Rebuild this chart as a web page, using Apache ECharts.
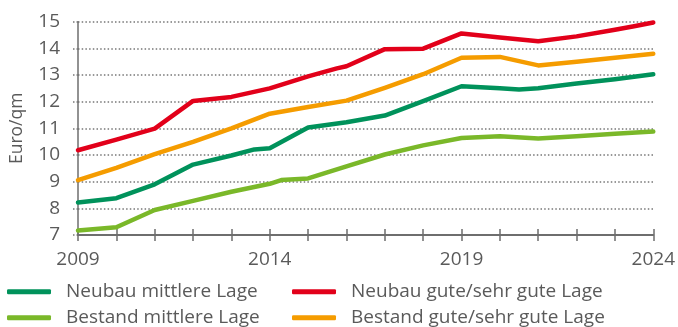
<!DOCTYPE html>
<html>
<head>
<meta charset="utf-8">
<script src="https://cdn.jsdelivr.net/npm/echarts@6/dist/echarts.min.js"></script>
<style>
  html, body { margin: 0; padding: 0; background: #fff; }
  #chart { width: 678px; height: 327px; }
</style>
</head>
<body>
<div id="chart"></div>
<script>
// Rent levels in Euro per square metre, 2009–2024
const seriesNames = [
  'Neubau mittlere Lage',
  'Neubau gute/sehr gute Lage',
  'Bestand mittlere Lage',
  'Bestand gute/sehr gute Lage'
];

const neubauMittelYears  = [2009, 2010, 2011, 2012, 2013, 2013.6, 2014, 2015, 2016, 2017, 2018, 2019, 2020, 2020.5, 2021, 2022, 2023, 2024];
const neubauMittelValues = [8.22, 8.38, 8.9, 9.64, 9.98, 10.21, 10.25, 11.03, 11.23, 11.48, 12.02, 12.58, 12.5, 12.46, 12.5, 12.68, 12.84, 13.03];

const neubauGutYears  = [2009, 2010, 2011, 2012, 2013, 2014, 2015, 2015.75, 2016, 2017, 2018, 2019, 2020, 2021, 2022, 2023, 2023.5, 2024];
const neubauGutValues = [10.18, 10.58, 10.99, 12.03, 12.18, 12.5, 12.95, 13.25, 13.33, 13.97, 13.99, 14.56, 14.41, 14.27, 14.45, 14.7, 14.83, 14.97];

const bestandMittelYears  = [2009, 2010, 2011, 2012, 2013, 2014, 2014.3, 2015, 2016, 2017, 2018, 2019, 2020, 2021, 2022, 2023, 2024];
const bestandMittelValues = [7.17, 7.29, 7.94, 8.28, 8.62, 8.92, 9.06, 9.12, 9.57, 10.02, 10.36, 10.64, 10.7, 10.62, 10.7, 10.8, 10.88];

const bestandGutYears  = [2009, 2010, 2011, 2012, 2013, 2014, 2015, 2016, 2017, 2018, 2019, 2020, 2021, 2022, 2023, 2024];
const bestandGutValues = [9.06, 9.52, 10.03, 10.49, 11.0, 11.55, 11.8, 12.04, 12.52, 13.03, 13.65, 13.68, 13.36, 13.5, 13.65, 13.8];

const xLabelYears = [2009, 2014, 2019, 2024];

const colors = ['#00925b', '#e2001a', '#7ab829', '#f59c00'];
const pair = (xs, ys) => xs.map((x, i) => [x, ys[i]]);
const seriesData = [
  pair(neubauMittelYears, neubauMittelValues),
  pair(neubauGutYears, neubauGutValues),
  pair(bestandMittelYears, bestandMittelValues),
  pair(bestandGutYears, bestandGutValues)
];

const FONT = '"Open Sans", "Noto Sans", sans-serif';
const TEXT = '#5a5a5a';
const AXIS = '#6e6e6e';

const chart = echarts.init(document.getElementById('chart'), null, { renderer: 'canvas' });

// one legend entry per slot: two columns, two rows
const legendSlots = [
  { name: seriesNames[0], left: 7,   top: 278.7 },
  { name: seriesNames[1], left: 292, top: 278.7 },
  { name: seriesNames[2], left: 7,   top: 304.7 },
  { name: seriesNames[3], left: 292, top: 304.7 }
];
const legends = legendSlots.map(s => ({
  left: s.left, top: s.top, padding: 0,
  data: [s.name],
  icon: 'roundRect',
  itemWidth: 44,
  itemHeight: 5,
  textStyle: { fontFamily: FONT, fontSize: 19, color: TEXT, lineHeight: 26, padding: [0, 0, 0, 10] }
}));

chart.setOption({
  animation: false,
  color: colors,
  grid: { left: 77, right: 21, top: 21.7, bottom: 92, containLabel: false },
  legend: legends,
  xAxis: [
    {
      type: 'value', min: 2009, max: 2024, interval: 1,
      axisLine: { show: true, lineStyle: { color: AXIS, width: 2 } },
      axisTick: { show: true, length: 6, lineStyle: { color: AXIS, width: 1.5 } },
      axisLabel: {
        margin: 15, fontFamily: FONT, fontSize: 19, color: TEXT,
        formatter: v => (xLabelYears.indexOf(v) >= 0 ? String(v) : '')
      },
      splitLine: { show: false }
    },
    {
      type: 'value', min: 2009, max: 2024, interval: 1, position: 'bottom',
      axisLine: { show: false },
      axisTick: { show: true, inside: true, length: 6, lineStyle: { color: AXIS, width: 1.5 } },
      axisLabel: { show: false },
      splitLine: { show: false }
    }
  ],
  yAxis: {
    type: 'value', min: 7, max: 15, interval: 1,
    name: 'Euro/qm', nameLocation: 'middle', nameRotate: 90, nameGap: 52,
    nameTextStyle: { fontFamily: FONT, fontSize: 17.5, color: TEXT },
    axisLine: { show: true, lineStyle: { color: AXIS, width: 1.5 } },
    axisTick: { show: true, length: 5, lineStyle: { color: '#777', width: 1.5, type: [1.5, 2] } },
    axisLabel: { margin: 18, fontFamily: FONT, fontSize: 19, color: TEXT },
    splitLine: { show: true, lineStyle: { color: '#777', width: 1.5, type: [1.5, 2.2] } }
  },
  series: seriesNames.map((name, i) => ({
    name, type: 'line', xAxisIndex: 0,
    data: seriesData[i],
    showSymbol: false, symbol: 'none',
    lineStyle: { width: 4.5, color: colors[i], cap: 'round', join: 'round' },
    itemStyle: { color: colors[i] },
    z: 3 + i
  }))
});
</script>
</body>
</html>
